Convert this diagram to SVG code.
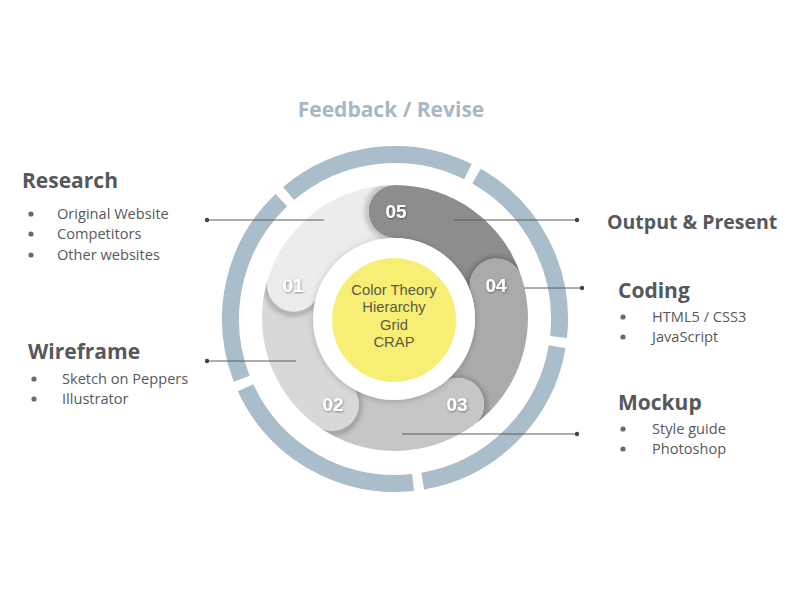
<svg xmlns="http://www.w3.org/2000/svg" width="800" height="600" viewBox="0 0 800 600">
  <style>
    .title { font-family: "Open Sans", "Noto Sans", sans-serif; font-weight: 700; fill: #56585a; }
    .item { font-family: "Open Sans", "Noto Sans", sans-serif; font-size: 14.6px; fill: #58595b; }
    .bullet { fill: #6a6a6a; }
    .ring { fill: none; stroke: #a9bdca; stroke-width: 17; }
    .num { font-family: "Liberation Sans", Arial, sans-serif; font-weight: 700; font-size: 19px; fill: #ffffff; text-anchor: middle; }
    .core { font-family: "Liberation Sans", Arial, sans-serif; font-size: 14.8px; fill: #5b5a45; text-anchor: middle; }
    .conn line { stroke: #5a5a5a; stroke-width: 1; }
    .conn circle { fill: #444; }
  </style>
  <defs>
    <filter id="soft" x="-30%" y="-30%" width="160%" height="160%">
      <feGaussianBlur stdDeviation="2.5"/>
    </filter>
    <filter id="ringShadow" x="-20%" y="-20%" width="140%" height="140%">
      <feDropShadow dx="0" dy="1" stdDeviation="3" flood-color="#000" flood-opacity="0.22"/>
    </filter>
    <filter id="numShadow" x="-20%" y="-20%" width="140%" height="140%">
      <feDropShadow dx="0.6" dy="0.8" stdDeviation="0.8" flood-color="#000" flood-opacity="0.45"/>
    </filter>
    <!-- band area minus the five head discs -->
    <clipPath id="bandClip">
      <path clip-rule="evenodd" d="M262,318 A133,133 0 1,0 528,318 A133,133 0 1,0 262,318 Z
        M315,318 A80,80 0 1,0 475,318 A80,80 0 1,0 315,318 Z
        M368.5,211.5 a26.5,26.5 0 1,0 53,0 a26.5,26.5 0 1,0 -53,0 Z
        M469.79,285.09 a26.5,26.5 0 1,0 53,0 a26.5,26.5 0 1,0 -53,0 Z
        M431.1,404.16 a26.5,26.5 0 1,0 53,0 a26.5,26.5 0 1,0 -53,0 Z
        M305.9,404.16 a26.5,26.5 0 1,0 53,0 a26.5,26.5 0 1,0 -53,0 Z
        M267.21,285.09 a26.5,26.5 0 1,0 53,0 a26.5,26.5 0 1,0 -53,0 Z"/>
    </clipPath>
  </defs>

  <rect width="800" height="600" fill="#ffffff"/>

  <!-- outer feedback ring -->
  <g id="feedback-ring">
    <path class="ring" d="M288.60,193.54 A164.5,164.5 0 0,1 467.88,171.53"/>
    <path class="ring" d="M476.50,176.11 A164.5,164.5 0 0,1 558.51,337.05"/>
    <path class="ring" d="M557.15,346.72 A164.5,164.5 0 0,1 422.72,481.15"/>
    <path class="ring" d="M413.05,482.51 A164.5,164.5 0 0,1 245.55,387.74"/>
    <path class="ring" d="M241.73,378.75 A164.5,164.5 0 0,1 281.35,200.07"/>
    <text class="title" x="391" y="117" font-size="21" style="fill:#a7b8c4" text-anchor="middle">Feedback / Revise</text>
  </g>

  <!-- process steps -->
  <g id="step-05">
    <path fill="#8d8d8d" d="M395,238 A26.5,26.5 0 0,1 395,185 A133,133 0 0,1 521.49,276.90 A26.5,26.5 0 0,0 471.08,293.28 A80,80 0 0,0 395,238 Z"/>
  </g>
  <g id="step-04">
    <path fill="#aaaaaa" d="M471.08,293.28 A26.5,26.5 0 0,1 521.49,276.90 A133,133 0 0,1 473.18,425.60 A26.5,26.5 0 0,0 442.02,382.72 A80,80 0 0,0 471.08,293.28 Z"/>
  </g>
  <g id="step-03">
    <path fill="#c6c6c6" d="M442.02,382.72 A26.5,26.5 0 0,1 473.18,425.60 A133,133 0 0,1 316.82,425.60 A26.5,26.5 0 0,0 347.98,382.72 A80,80 0 0,0 442.02,382.72 Z"/>
  </g>
  <g id="step-02">
    <path fill="#d8d8d8" d="M347.98,382.72 A26.5,26.5 0 0,1 316.82,425.60 A133,133 0 0,1 268.51,276.90 A26.5,26.5 0 0,0 318.92,293.28 A80,80 0 0,0 347.98,382.72 Z"/>
  </g>
  <g id="step-01">
    <path fill="#ececec" d="M318.92,293.28 A26.5,26.5 0 0,1 268.51,276.90 A133,133 0 0,1 395,185 A26.5,26.5 0 0,0 395,238 A80,80 0 0,0 318.92,293.28 Z"/>
  </g>

  <!-- soft shading cast by each rounded head onto the band before it -->
  <g id="head-shading" clip-path="url(#bandClip)">
    <g filter="url(#soft)" fill="none" stroke="#000" stroke-opacity="0.28" stroke-width="4">
      <path d="M395,239 A27.5,27.5 0 0,1 395,184"/>
      <path d="M470.13,294.59 A27.5,27.5 0 0,1 522.45,277.59"/>
      <path d="M441.43,383.53 A27.5,27.5 0 0,1 473.76,428.02"/>
      <path d="M348.57,383.53 A27.5,27.5 0 0,1 316.24,428.02"/>
      <path d="M319.87,294.59 A27.5,27.5 0 0,1 267.55,277.59"/>
    </g>
  </g>

  <!-- step numbers -->
  <g id="step-numbers" filter="url(#numShadow)">
    <text class="num" x="396" y="218">05</text>
    <text class="num" x="496" y="292">04</text>
    <text class="num" x="457" y="411">03</text>
    <text class="num" x="333" y="411">02</text>
    <text class="num" x="293" y="292">01</text>
  </g>

  <!-- centre -->
  <g id="core">
    <circle cx="394" cy="319" r="81" fill="#ffffff" filter="url(#ringShadow)"/>
    <circle cx="394" cy="320" r="62" fill="#f7ef74"/>
    <text class="core" x="394" y="295">Color Theory</text>
    <text class="core" x="394" y="312">Hierarchy</text>
    <text class="core" x="394" y="330">Grid</text>
    <text class="core" x="394" y="347">CRAP</text>
  </g>

  <!-- leader lines -->
  <g id="connectors" class="conn">
    <line x1="207" y1="220" x2="324" y2="220"/><circle cx="207" cy="220" r="2.2"/>
    <line x1="207" y1="361" x2="296" y2="361"/><circle cx="207" cy="361" r="2.2"/>
    <line x1="454" y1="220" x2="577" y2="220"/><circle cx="577" cy="220" r="2.2"/>
    <line x1="524" y1="288" x2="582" y2="288"/><circle cx="582" cy="288" r="2.2"/>
    <line x1="402" y1="434" x2="577" y2="434"/><circle cx="577" cy="434" r="2.2"/>
  </g>

  <!-- side labels -->
  <g id="research">
    <text class="title" x="22" y="188" font-size="21">Research</text>
    <circle class="bullet" cx="31" cy="214" r="2.6"/><text class="item" x="57" y="219">Original Website</text>
    <circle class="bullet" cx="31" cy="234" r="2.6"/><text class="item" x="57" y="239">Competitors</text>
    <circle class="bullet" cx="31" cy="255" r="2.6"/><text class="item" x="57" y="260">Other websites</text>
  </g>
  <g id="wireframe">
    <text class="title" x="28" y="359" font-size="21">Wireframe</text>
    <circle class="bullet" cx="34" cy="379" r="2.6"/><text class="item" x="62" y="384">Sketch on Peppers</text>
    <circle class="bullet" cx="34" cy="399" r="2.6"/><text class="item" x="62" y="404">Illustrator</text>
  </g>
  <g id="output">
    <text class="title" x="607" y="229" font-size="19.5">Output &amp; Present</text>
  </g>
  <g id="coding">
    <text class="title" x="618" y="298" font-size="21">Coding</text>
    <circle class="bullet" cx="623" cy="317" r="2.6"/><text class="item" x="652" y="322">HTML5 / CSS3</text>
    <circle class="bullet" cx="623" cy="337" r="2.6"/><text class="item" x="652" y="342">JavaScript</text>
  </g>
  <g id="mockup">
    <text class="title" x="618" y="410" font-size="21">Mockup</text>
    <circle class="bullet" cx="623" cy="429" r="2.6"/><text class="item" x="652" y="434">Style guide</text>
    <circle class="bullet" cx="623" cy="449" r="2.6"/><text class="item" x="652" y="454">Photoshop</text>
  </g>
</svg>
